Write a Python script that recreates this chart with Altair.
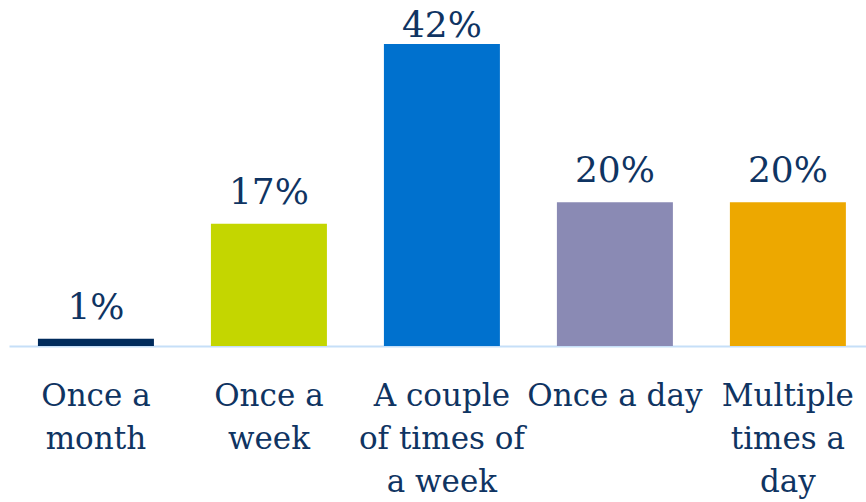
import altair as alt
import pandas as pd

categories = ["Once a|month", "Once a|week", "A couple|of times of|a week", "Once a day", "Multiple|times a|day"]
values = [1, 17, 42, 20, 20]
colors = ["#002b5c", "#c4d600", "#0071ce", "#8a8ab4", "#eda800"]

df = pd.DataFrame({"cat": categories, "val": values, "color": colors})

TEXT = "#0f3462"
FONT = "DejaVu Serif"

x = alt.X(
    "cat:N",
    sort=categories,
    scale=alt.Scale(paddingInner=0.3295, paddingOuter=0.1418, align=0.59),
    axis=alt.Axis(
        title=None, labelAngle=0, ticks=False, domainColor="#c6dff8", domainWidth=2,
        labelFont=FONT, labelFontSize=31, labelColor=TEXT, labelPadding=35,
        labelLineHeight=43, labelExpr="split(datum.label, '|')", labelLimit=0,
        labelOverlap=False, labelBound=False, labelFlush=False,
    ),
)

base = alt.Chart(df)

bars = base.mark_bar().encode(
    x=x,
    y=alt.Y("val:Q", scale=alt.Scale(domain=[0, 48.1]), axis=None),
    color=alt.Color("color:N", scale=None),
)

labels = base.transform_calculate(
    ly="min(datum.val, 40.2)", lab="datum.val + '%'"
).mark_text(
    dy=-20, baseline="alphabetic", font=FONT, fontSize=36, color=TEXT
).encode(
    x=alt.X("cat:N", sort=categories),
    y=alt.Y("ly:Q", scale=alt.Scale(domain=[0, 48.1]), axis=None),
    text="lab:N",
)

chart = (bars + labels).properties(
    width=857, height=346,
    background="white",
    autosize=alt.AutoSizeParams(type="none"),
    padding={"left": 9, "top": 0, "right": 0, "bottom": 156},
).configure_view(stroke=None)

chart.save("out.html", embed_options={"renderer": "svg", "actions": False})
